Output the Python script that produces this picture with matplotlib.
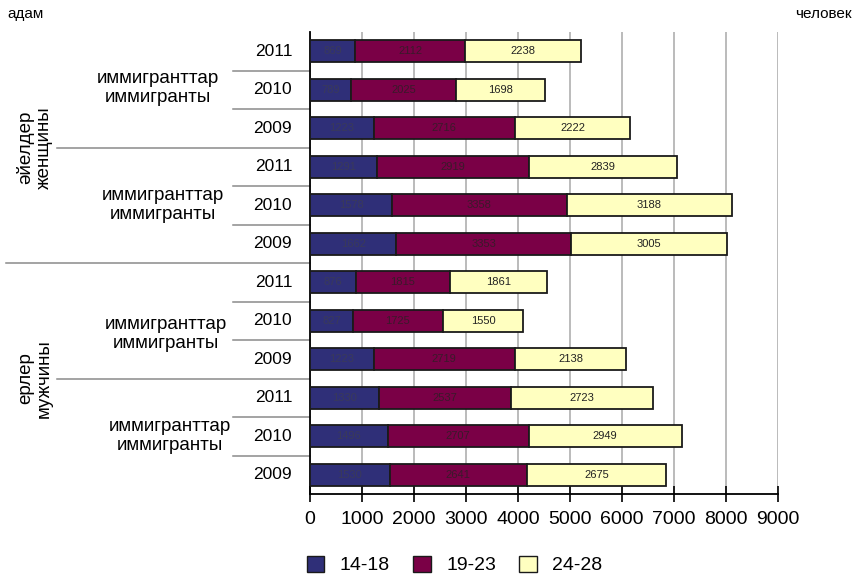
import matplotlib.pyplot as plt
import matplotlib.transforms as mtransforms
from matplotlib.patches import Patch

plt.rcParams['font.family'] = ['Liberation Sans', 'DejaVu Sans']

# данные: строки сверху вниз
years = ['2011', '2010', '2009'] * 4
age_groups = ['14-18', '19-23', '24-28']
v_14_18 = [869, 789, 1223, 1291, 1578, 1662, 876, 827, 1223, 1330, 1496, 1530]
v_19_23 = [2112, 2025, 2716, 2919, 3358, 3353, 1815, 1725, 2719, 2537, 2707, 2641]
v_24_28 = [2238, 1698, 2222, 2839, 3188, 3005, 1861, 1550, 2138, 2723, 2949, 2675]
group_label = 'иммигранттар\nиммигранты'
sex_labels = ['әйелдер\nженщины', 'ерлер\nмужчины']

colors = ['#2f2f78', '#7a0046', '#ffffc0']
text_colors = ['#3a3a5a', '#3a1a2a', '#222222']

fig = plt.figure(figsize=(8.56, 5.75), dpi=100)
ax = fig.add_axes([310 / 856, 1 - 494 / 575, 468 / 856, 462 / 575])

y = list(range(len(years)))
left = [0] * len(years)
for vals, col, tcol in zip([v_14_18, v_19_23, v_24_28], colors, text_colors):
    bars = ax.barh(y, vals, left=left, height=0.57, color=col,
                   edgecolor='#1a1a1a', linewidth=1.3, zorder=3)
    for b, v in zip(bars, vals):
        ax.text(b.get_x() + b.get_width() / 2, b.get_y() + b.get_height() / 2,
                str(v), ha='center', va='center', fontsize=8, color=tcol, zorder=4)
    left = [l + v for l, v in zip(left, vals)]

ax.set_xlim(0, 9000)
ax.set_ylim(len(years) - 0.5, -0.5)
ax.set_xticks(range(0, 9001, 1000))
ax.tick_params(axis='x', labelsize=14, direction='inout', length=12, width=1.2, pad=6)
ax.set_yticks([])
ax.xaxis.grid(True, color='#b5b5b5', linewidth=1.3, zorder=0)
ax.set_axisbelow(True)
for s in ['top', 'right']:
    ax.spines[s].set_visible(False)
ax.spines['left'].set_linewidth(1.3)
ax.spines['bottom'].set_linewidth(1.3)

trans = mtransforms.blended_transform_factory(ax.transAxes, ax.transData)

# подписи годов
for i, yr in enumerate(years):
    ax.text(-0.038, i, yr, transform=trans, ha='right', va='center', fontsize=12.5)

# разделители
for i in range(len(years) - 1):
    yy = i + 0.5
    if (i + 1) % 6 == 0:
        x0 = -0.65
    elif (i + 1) % 3 == 0:
        x0 = -0.54
    else:
        x0 = -0.165
    ax.plot([x0, 0], [yy, yy], transform=trans, color='#8a8a8a', linewidth=1.1,
            clip_on=False)

# подписи групп
group_centers = [0.95, 4.0, 7.35, 10.0]
group_x = [-0.325, -0.315, -0.307, -0.299]
for gx, gc in zip(group_x, group_centers):
    ax.text(gx, gc, group_label, transform=trans, ha='center', va='center',
            fontsize=13.5, linespacing=1.15)

for sl, sc in zip(sex_labels, [2.5, 8.5]):
    ax.text(-0.588, sc, sl, transform=trans, ha='center', va='center',
            fontsize=13.5, rotation=90, linespacing=1.1)

fig.text(7 / 856, 1 - 14 / 575, 'адам', ha='left', va='center', fontsize=11)
fig.text(852 / 856, 1 - 14 / 575, 'человек', ha='right', va='center', fontsize=11)

handles = [Patch(facecolor=c, edgecolor='#1a1a1a', linewidth=1.0) for c in colors]
fig.legend(handles, age_groups, loc='center left', bbox_to_anchor=(289 / 856, 1 - 565 / 575),
           ncol=3, frameon=False, fontsize=14, handlelength=0.9, handleheight=0.9,
           columnspacing=1.2, handletextpad=0.8)

fig.savefig('out.png', dpi=100)
